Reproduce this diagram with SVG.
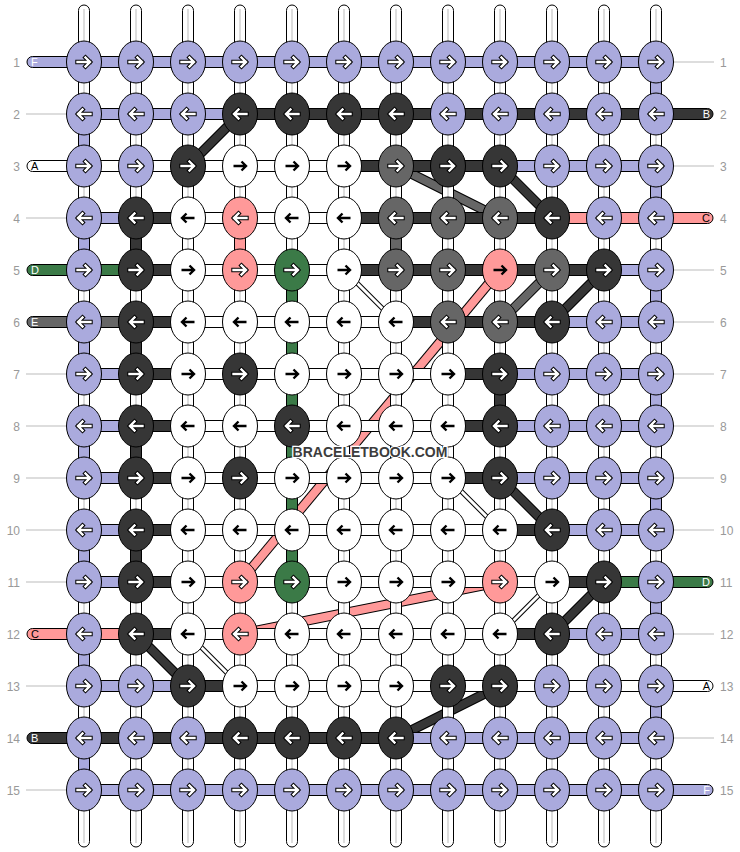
<svg xmlns="http://www.w3.org/2000/svg" xmlns:xlink="http://www.w3.org/1999/xlink" width="740" height="852" viewBox="0 0 740 852">
<style>
.P{fill:#aaaadd}.K{fill:#363636}.W{fill:#fff}.G{fill:#666}.R{fill:#ff9999}.N{fill:#3b7a47}
ellipse{stroke:#000;stroke-width:1}
.s rect{stroke:#000;stroke-width:1}
.ln{stroke:#bbb;stroke-width:1}
.num{font-family:"Liberation Sans",Arial,sans-serif;font-size:12px;fill:#999}
.tl{font-family:"Liberation Sans",Arial,sans-serif;font-size:11px}
.ao{stroke:#000;stroke-width:4.4;stroke-linecap:square;stroke-linejoin:miter}
.ai{stroke:#fff;stroke-width:2.4;stroke-linecap:square;stroke-linejoin:miter}
.ab{stroke:#000;stroke-width:2.4;stroke-linejoin:miter}
.dk{stroke:#000;stroke-width:10}
.dt{stroke:#000;stroke-width:5}
.dw{stroke:#fff;stroke-width:3}
</style>
<defs>
<path id="ra" fill="none" d="M-6.5,0H5.5M1.5,-4.5L6,0L1.5,4.5"/>
<path id="la" fill="none" d="M6.5,0H-5.5M-1.5,-4.5L-6,0L-1.5,4.5"/>
<g id="rw"><use href="#ra" class="ao"/><use href="#ra" class="ai"/></g>
<g id="lw"><use href="#la" class="ao"/><use href="#la" class="ai"/></g>
<use id="rb" href="#ra" class="ab"/>
<use id="lb" href="#la" class="ab"/>
</defs>
<rect width="740" height="852" fill="#fff"/>
<g id="connectors">
<g id="diagonals">
<line class="dk" x1="188" y1="166" x2="240" y2="114"/><line stroke="#363636" stroke-width="8" x1="188" y1="166" x2="240" y2="114"/>
<line class="dk" x1="396" y1="166" x2="500" y2="218"/><line stroke="#666" stroke-width="8" x1="396" y1="166" x2="500" y2="218"/>
<line class="dk" x1="500" y1="166" x2="552" y2="218"/><line stroke="#363636" stroke-width="8" x1="500" y1="166" x2="552" y2="218"/>
<line class="dk" x1="500" y1="270" x2="240" y2="582"/><line stroke="#ff9999" stroke-width="8" x1="500" y1="270" x2="240" y2="582"/>
<line class="dk" x1="552" y1="270" x2="500" y2="322"/><line stroke="#666" stroke-width="8" x1="552" y1="270" x2="500" y2="322"/>
<line class="dk" x1="604" y1="270" x2="552" y2="322"/><line stroke="#363636" stroke-width="8" x1="604" y1="270" x2="552" y2="322"/>
<line class="dk" x1="500" y1="478" x2="552" y2="530"/><line stroke="#363636" stroke-width="8" x1="500" y1="478" x2="552" y2="530"/>
<line class="dk" x1="500" y1="582" x2="240" y2="634"/><line stroke="#ff9999" stroke-width="8" x1="500" y1="582" x2="240" y2="634"/>
<line class="dk" x1="604" y1="582" x2="552" y2="634"/><line stroke="#363636" stroke-width="8" x1="604" y1="582" x2="552" y2="634"/>
<line class="dk" x1="136" y1="634" x2="188" y2="686"/><line stroke="#363636" stroke-width="8" x1="136" y1="634" x2="188" y2="686"/>
<line class="dk" x1="500" y1="686" x2="396" y2="738"/><line stroke="#363636" stroke-width="8" x1="500" y1="686" x2="396" y2="738"/>
<line class="dt" x1="344" y1="270" x2="396" y2="322"/><line class="dw" x1="344" y1="270" x2="396" y2="322"/>
<line class="dt" x1="448" y1="478" x2="500" y2="530"/><line class="dw" x1="448" y1="478" x2="500" y2="530"/>
<line class="dt" x1="552" y1="582" x2="500" y2="634"/><line class="dw" x1="552" y1="582" x2="500" y2="634"/>
<line class="dt" x1="188" y1="634" x2="240" y2="686"/><line class="dw" x1="188" y1="634" x2="240" y2="686"/>
</g>
<g id="warps" class="s">
<rect class="W" x="78.5" y="5" width="11" height="842" rx="5.5"/>
<rect class="W" x="130.5" y="5" width="11" height="842" rx="5.5"/>
<rect class="W" x="182.5" y="5" width="11" height="842" rx="5.5"/>
<rect class="W" x="234.5" y="5" width="11" height="842" rx="5.5"/>
<rect class="W" x="286.5" y="5" width="11" height="842" rx="5.5"/>
<rect class="W" x="338.5" y="5" width="11" height="842" rx="5.5"/>
<rect class="W" x="390.5" y="5" width="11" height="842" rx="5.5"/>
<rect class="W" x="442.5" y="5" width="11" height="842" rx="5.5"/>
<rect class="W" x="494.5" y="5" width="11" height="842" rx="5.5"/>
<rect class="W" x="546.5" y="5" width="11" height="842" rx="5.5"/>
<rect class="W" x="598.5" y="5" width="11" height="842" rx="5.5"/>
<rect class="W" x="650.5" y="5" width="11" height="842" rx="5.5"/>
</g>
<g id="warp-centres">
<path class="ln" stroke="#c8c8c8" d="M84,9V843M136,9V843M188,9V843M240,9V843M292,9V843M344,9V843M396,9V843M448,9V843M500,9V843M552,9V843M604,9V843M656,9V843"/>
</g>
<g id="verticals" class="s">
<rect class="P" x="78.5" y="132" width="11" height="16"/>
<rect class="P" x="78.5" y="236" width="11" height="16"/>
<rect class="P" x="78.5" y="340" width="11" height="16"/>
<rect class="P" x="78.5" y="444" width="11" height="16"/>
<rect class="P" x="78.5" y="548" width="11" height="16"/>
<rect class="P" x="78.5" y="652" width="11" height="16"/>
<rect class="P" x="78.5" y="756" width="11" height="16"/>
<rect class="K" x="130.5" y="236" width="11" height="16"/>
<rect class="K" x="130.5" y="340" width="11" height="16"/>
<rect class="K" x="130.5" y="444" width="11" height="16"/>
<rect class="K" x="130.5" y="548" width="11" height="16"/>
<rect class="R" x="234.5" y="236" width="11" height="16"/>
<rect class="N" x="286.5" y="288" width="11" height="276"/>
<rect class="G" x="390.5" y="236" width="11" height="16"/>
<rect class="K" x="494.5" y="392" width="11" height="16"/>
<rect class="P" x="650.5" y="80" width="11" height="16"/>
<rect class="P" x="650.5" y="184" width="11" height="16"/>
<rect class="P" x="650.5" y="288" width="11" height="16"/>
<rect class="P" x="650.5" y="392" width="11" height="16"/>
<rect class="P" x="650.5" y="496" width="11" height="16"/>
<rect class="P" x="650.5" y="600" width="11" height="16"/>
<rect class="P" x="650.5" y="704" width="11" height="16"/>
</g>
<g id="bands" class="s">
<rect class="P" x="84" y="56.5" width="572" height="11"/>
<rect class="P" x="84" y="108.5" width="156" height="11"/><rect class="K" x="240" y="108.5" width="416" height="11"/>
<rect class="W" x="84" y="160.5" width="260" height="11"/><rect class="K" x="344" y="160.5" width="156" height="11"/><rect class="P" x="500" y="160.5" width="156" height="11"/>
<rect class="P" x="84" y="212.5" width="52" height="11"/><rect class="K" x="136" y="212.5" width="52" height="11"/><rect class="W" x="188" y="212.5" width="156" height="11"/><rect class="K" x="344" y="212.5" width="208" height="11"/><rect class="R" x="552" y="212.5" width="104" height="11"/>
<rect class="N" x="84" y="264.5" width="52" height="11"/><rect class="K" x="136" y="264.5" width="52" height="11"/><rect class="W" x="188" y="264.5" width="156" height="11"/><rect class="K" x="344" y="264.5" width="260" height="11"/><rect class="P" x="604" y="264.5" width="52" height="11"/>
<rect class="G" x="84" y="316.5" width="52" height="11"/><rect class="K" x="136" y="316.5" width="52" height="11"/><rect class="W" x="188" y="316.5" width="208" height="11"/><rect class="K" x="396" y="316.5" width="156" height="11"/><rect class="P" x="552" y="316.5" width="104" height="11"/>
<rect class="P" x="84" y="368.5" width="52" height="11"/><rect class="K" x="136" y="368.5" width="52" height="11"/><rect class="W" x="188" y="368.5" width="260" height="11"/><rect class="K" x="448" y="368.5" width="52" height="11"/><rect class="P" x="500" y="368.5" width="156" height="11"/>
<rect class="P" x="84" y="420.5" width="52" height="11"/><rect class="K" x="136" y="420.5" width="52" height="11"/><rect class="W" x="188" y="420.5" width="260" height="11"/><rect class="K" x="448" y="420.5" width="52" height="11"/><rect class="P" x="500" y="420.5" width="156" height="11"/>
<rect class="P" x="84" y="472.5" width="52" height="11"/><rect class="K" x="136" y="472.5" width="52" height="11"/><rect class="W" x="188" y="472.5" width="260" height="11"/><rect class="K" x="448" y="472.5" width="52" height="11"/><rect class="P" x="500" y="472.5" width="156" height="11"/>
<rect class="P" x="84" y="524.5" width="52" height="11"/><rect class="K" x="136" y="524.5" width="52" height="11"/><rect class="W" x="188" y="524.5" width="312" height="11"/><rect class="K" x="500" y="524.5" width="52" height="11"/><rect class="P" x="552" y="524.5" width="104" height="11"/>
<rect class="P" x="84" y="576.5" width="52" height="11"/><rect class="K" x="136" y="576.5" width="52" height="11"/><rect class="W" x="188" y="576.5" width="364" height="11"/><rect class="K" x="552" y="576.5" width="52" height="11"/><rect class="N" x="604" y="576.5" width="52" height="11"/>
<rect class="R" x="84" y="628.5" width="52" height="11"/><rect class="K" x="136" y="628.5" width="52" height="11"/><rect class="W" x="188" y="628.5" width="312" height="11"/><rect class="K" x="500" y="628.5" width="52" height="11"/><rect class="P" x="552" y="628.5" width="104" height="11"/>
<rect class="P" x="84" y="680.5" width="104" height="11"/><rect class="K" x="188" y="680.5" width="52" height="11"/><rect class="W" x="240" y="680.5" width="416" height="11"/>
<rect class="K" x="84" y="732.5" width="312" height="11"/><rect class="P" x="396" y="732.5" width="260" height="11"/>
<rect class="P" x="84" y="784.5" width="572" height="11"/>
</g>
<g id="tails" class="s">
<rect class="P" x="27" y="56.5" width="57" height="11" rx="5.5"/>
<rect class="W" x="27" y="160.5" width="57" height="11" rx="5.5"/>
<rect class="N" x="27" y="264.5" width="57" height="11" rx="5.5"/>
<rect class="G" x="27" y="316.5" width="57" height="11" rx="5.5"/>
<rect class="R" x="27" y="628.5" width="57" height="11" rx="5.5"/>
<rect class="K" x="27" y="732.5" width="57" height="11" rx="5.5"/>
<rect class="K" x="656" y="108.5" width="57" height="11" rx="5.5"/>
<rect class="R" x="656" y="212.5" width="57" height="11" rx="5.5"/>
<rect class="N" x="656" y="576.5" width="57" height="11" rx="5.5"/>
<rect class="W" x="656" y="680.5" width="57" height="11" rx="5.5"/>
<rect class="P" x="656" y="784.5" width="57" height="11" rx="5.5"/>
</g>
<path id="row-lines" class="ln" d="M26,114H67M26,218H67M26,374H67M26,426H67M26,478H67M26,530H67M26,582H67M26,686H67M26,790H67M674,62H714M674,166H714M674,270H714M674,322H714M674,374H714M674,426H714M674,478H714M674,530H714M674,634H714M674,738H714"/>
</g>
<g id="knots">
<g id="k1-1" transform="translate(84,62)"><ellipse class="P" rx="17.5" ry="21"/><use href="#rw"/></g>
<g id="k1-2" transform="translate(136,62)"><ellipse class="P" rx="17.5" ry="21"/><use href="#rw"/></g>
<g id="k1-3" transform="translate(188,62)"><ellipse class="P" rx="17.5" ry="21"/><use href="#rw"/></g>
<g id="k1-4" transform="translate(240,62)"><ellipse class="P" rx="17.5" ry="21"/><use href="#rw"/></g>
<g id="k1-5" transform="translate(292,62)"><ellipse class="P" rx="17.5" ry="21"/><use href="#rw"/></g>
<g id="k1-6" transform="translate(344,62)"><ellipse class="P" rx="17.5" ry="21"/><use href="#rw"/></g>
<g id="k1-7" transform="translate(396,62)"><ellipse class="P" rx="17.5" ry="21"/><use href="#rw"/></g>
<g id="k1-8" transform="translate(448,62)"><ellipse class="P" rx="17.5" ry="21"/><use href="#rw"/></g>
<g id="k1-9" transform="translate(500,62)"><ellipse class="P" rx="17.5" ry="21"/><use href="#rw"/></g>
<g id="k1-10" transform="translate(552,62)"><ellipse class="P" rx="17.5" ry="21"/><use href="#rw"/></g>
<g id="k1-11" transform="translate(604,62)"><ellipse class="P" rx="17.5" ry="21"/><use href="#rw"/></g>
<g id="k1-12" transform="translate(656,62)"><ellipse class="P" rx="17.5" ry="21"/><use href="#rw"/></g>

<g id="k2-1" transform="translate(84,114)"><ellipse class="P" rx="17.5" ry="21"/><use href="#lw"/></g>
<g id="k2-2" transform="translate(136,114)"><ellipse class="P" rx="17.5" ry="21"/><use href="#lw"/></g>
<g id="k2-3" transform="translate(188,114)"><ellipse class="P" rx="17.5" ry="21"/><use href="#lw"/></g>
<g id="k2-4" transform="translate(240,114)"><ellipse class="K" rx="17.5" ry="21"/><use href="#lw"/></g>
<g id="k2-5" transform="translate(292,114)"><ellipse class="K" rx="17.5" ry="21"/><use href="#lw"/></g>
<g id="k2-6" transform="translate(344,114)"><ellipse class="K" rx="17.5" ry="21"/><use href="#lw"/></g>
<g id="k2-7" transform="translate(396,114)"><ellipse class="K" rx="17.5" ry="21"/><use href="#lw"/></g>
<g id="k2-8" transform="translate(448,114)"><ellipse class="P" rx="17.5" ry="21"/><use href="#lw"/></g>
<g id="k2-9" transform="translate(500,114)"><ellipse class="P" rx="17.5" ry="21"/><use href="#lw"/></g>
<g id="k2-10" transform="translate(552,114)"><ellipse class="P" rx="17.5" ry="21"/><use href="#lw"/></g>
<g id="k2-11" transform="translate(604,114)"><ellipse class="P" rx="17.5" ry="21"/><use href="#lw"/></g>
<g id="k2-12" transform="translate(656,114)"><ellipse class="P" rx="17.5" ry="21"/><use href="#lw"/></g>

<g id="k3-1" transform="translate(84,166)"><ellipse class="P" rx="17.5" ry="21"/><use href="#rw"/></g>
<g id="k3-2" transform="translate(136,166)"><ellipse class="P" rx="17.5" ry="21"/><use href="#rw"/></g>
<g id="k3-3" transform="translate(188,166)"><ellipse class="K" rx="17.5" ry="21"/><use href="#rw"/></g>
<g id="k3-4" transform="translate(240,166)"><ellipse class="W" rx="17.5" ry="21"/><use href="#rb"/></g>
<g id="k3-5" transform="translate(292,166)"><ellipse class="W" rx="17.5" ry="21"/><use href="#rb"/></g>
<g id="k3-6" transform="translate(344,166)"><ellipse class="W" rx="17.5" ry="21"/><use href="#rb"/></g>
<g id="k3-7" transform="translate(396,166)"><ellipse class="G" rx="17.5" ry="21"/><use href="#rw"/></g>
<g id="k3-8" transform="translate(448,166)"><ellipse class="K" rx="17.5" ry="21"/><use href="#rw"/></g>
<g id="k3-9" transform="translate(500,166)"><ellipse class="K" rx="17.5" ry="21"/><use href="#rw"/></g>
<g id="k3-10" transform="translate(552,166)"><ellipse class="P" rx="17.5" ry="21"/><use href="#rw"/></g>
<g id="k3-11" transform="translate(604,166)"><ellipse class="P" rx="17.5" ry="21"/><use href="#rw"/></g>
<g id="k3-12" transform="translate(656,166)"><ellipse class="P" rx="17.5" ry="21"/><use href="#rw"/></g>

<g id="k4-1" transform="translate(84,218)"><ellipse class="P" rx="17.5" ry="21"/><use href="#lw"/></g>
<g id="k4-2" transform="translate(136,218)"><ellipse class="K" rx="17.5" ry="21"/><use href="#lw"/></g>
<g id="k4-3" transform="translate(188,218)"><ellipse class="W" rx="17.5" ry="21"/><use href="#lb"/></g>
<g id="k4-4" transform="translate(240,218)"><ellipse class="R" rx="17.5" ry="21"/><use href="#lw"/></g>
<g id="k4-5" transform="translate(292,218)"><ellipse class="W" rx="17.5" ry="21"/><use href="#lb"/></g>
<g id="k4-6" transform="translate(344,218)"><ellipse class="W" rx="17.5" ry="21"/><use href="#lb"/></g>
<g id="k4-7" transform="translate(396,218)"><ellipse class="G" rx="17.5" ry="21"/><use href="#lw"/></g>
<g id="k4-8" transform="translate(448,218)"><ellipse class="G" rx="17.5" ry="21"/><use href="#lw"/></g>
<g id="k4-9" transform="translate(500,218)"><ellipse class="G" rx="17.5" ry="21"/><use href="#lw"/></g>
<g id="k4-10" transform="translate(552,218)"><ellipse class="K" rx="17.5" ry="21"/><use href="#lw"/></g>
<g id="k4-11" transform="translate(604,218)"><ellipse class="P" rx="17.5" ry="21"/><use href="#lw"/></g>
<g id="k4-12" transform="translate(656,218)"><ellipse class="P" rx="17.5" ry="21"/><use href="#lw"/></g>

<g id="k5-1" transform="translate(84,270)"><ellipse class="P" rx="17.5" ry="21"/><use href="#rw"/></g>
<g id="k5-2" transform="translate(136,270)"><ellipse class="K" rx="17.5" ry="21"/><use href="#rw"/></g>
<g id="k5-3" transform="translate(188,270)"><ellipse class="W" rx="17.5" ry="21"/><use href="#rb"/></g>
<g id="k5-4" transform="translate(240,270)"><ellipse class="R" rx="17.5" ry="21"/><use href="#rw"/></g>
<g id="k5-5" transform="translate(292,270)"><ellipse class="N" rx="17.5" ry="21"/><use href="#rw"/></g>
<g id="k5-6" transform="translate(344,270)"><ellipse class="W" rx="17.5" ry="21"/><use href="#rb"/></g>
<g id="k5-7" transform="translate(396,270)"><ellipse class="G" rx="17.5" ry="21"/><use href="#rw"/></g>
<g id="k5-8" transform="translate(448,270)"><ellipse class="G" rx="17.5" ry="21"/><use href="#rw"/></g>
<g id="k5-9" transform="translate(500,270)"><ellipse class="R" rx="17.5" ry="21"/><use href="#rb"/></g>
<g id="k5-10" transform="translate(552,270)"><ellipse class="G" rx="17.5" ry="21"/><use href="#rw"/></g>
<g id="k5-11" transform="translate(604,270)"><ellipse class="K" rx="17.5" ry="21"/><use href="#rw"/></g>
<g id="k5-12" transform="translate(656,270)"><ellipse class="P" rx="17.5" ry="21"/><use href="#rw"/></g>

<g id="k6-1" transform="translate(84,322)"><ellipse class="P" rx="17.5" ry="21"/><use href="#lw"/></g>
<g id="k6-2" transform="translate(136,322)"><ellipse class="K" rx="17.5" ry="21"/><use href="#lw"/></g>
<g id="k6-3" transform="translate(188,322)"><ellipse class="W" rx="17.5" ry="21"/><use href="#lb"/></g>
<g id="k6-4" transform="translate(240,322)"><ellipse class="W" rx="17.5" ry="21"/><use href="#lb"/></g>
<g id="k6-5" transform="translate(292,322)"><ellipse class="W" rx="17.5" ry="21"/><use href="#lb"/></g>
<g id="k6-6" transform="translate(344,322)"><ellipse class="W" rx="17.5" ry="21"/><use href="#lb"/></g>
<g id="k6-7" transform="translate(396,322)"><ellipse class="W" rx="17.5" ry="21"/><use href="#lb"/></g>
<g id="k6-8" transform="translate(448,322)"><ellipse class="G" rx="17.5" ry="21"/><use href="#lw"/></g>
<g id="k6-9" transform="translate(500,322)"><ellipse class="G" rx="17.5" ry="21"/><use href="#lw"/></g>
<g id="k6-10" transform="translate(552,322)"><ellipse class="K" rx="17.5" ry="21"/><use href="#lw"/></g>
<g id="k6-11" transform="translate(604,322)"><ellipse class="P" rx="17.5" ry="21"/><use href="#lw"/></g>
<g id="k6-12" transform="translate(656,322)"><ellipse class="P" rx="17.5" ry="21"/><use href="#lw"/></g>

<g id="k7-1" transform="translate(84,374)"><ellipse class="P" rx="17.5" ry="21"/><use href="#rw"/></g>
<g id="k7-2" transform="translate(136,374)"><ellipse class="K" rx="17.5" ry="21"/><use href="#rw"/></g>
<g id="k7-3" transform="translate(188,374)"><ellipse class="W" rx="17.5" ry="21"/><use href="#rb"/></g>
<g id="k7-4" transform="translate(240,374)"><ellipse class="K" rx="17.5" ry="21"/><use href="#rw"/></g>
<g id="k7-5" transform="translate(292,374)"><ellipse class="W" rx="17.5" ry="21"/><use href="#rb"/></g>
<g id="k7-6" transform="translate(344,374)"><ellipse class="W" rx="17.5" ry="21"/><use href="#rb"/></g>
<g id="k7-7" transform="translate(396,374)"><ellipse class="W" rx="17.5" ry="21"/><use href="#rb"/></g>
<g id="k7-8" transform="translate(448,374)"><ellipse class="W" rx="17.5" ry="21"/><use href="#rb"/></g>
<g id="k7-9" transform="translate(500,374)"><ellipse class="K" rx="17.5" ry="21"/><use href="#rw"/></g>
<g id="k7-10" transform="translate(552,374)"><ellipse class="P" rx="17.5" ry="21"/><use href="#rw"/></g>
<g id="k7-11" transform="translate(604,374)"><ellipse class="P" rx="17.5" ry="21"/><use href="#rw"/></g>
<g id="k7-12" transform="translate(656,374)"><ellipse class="P" rx="17.5" ry="21"/><use href="#rw"/></g>

<g id="k8-1" transform="translate(84,426)"><ellipse class="P" rx="17.5" ry="21"/><use href="#lw"/></g>
<g id="k8-2" transform="translate(136,426)"><ellipse class="K" rx="17.5" ry="21"/><use href="#lw"/></g>
<g id="k8-3" transform="translate(188,426)"><ellipse class="W" rx="17.5" ry="21"/><use href="#lb"/></g>
<g id="k8-4" transform="translate(240,426)"><ellipse class="W" rx="17.5" ry="21"/><use href="#lb"/></g>
<g id="k8-5" transform="translate(292,426)"><ellipse class="K" rx="17.5" ry="21"/><use href="#lw"/></g>
<g id="k8-6" transform="translate(344,426)"><ellipse class="W" rx="17.5" ry="21"/><use href="#lb"/></g>
<g id="k8-7" transform="translate(396,426)"><ellipse class="W" rx="17.5" ry="21"/><use href="#lb"/></g>
<g id="k8-8" transform="translate(448,426)"><ellipse class="W" rx="17.5" ry="21"/><use href="#lb"/></g>
<g id="k8-9" transform="translate(500,426)"><ellipse class="K" rx="17.5" ry="21"/><use href="#lw"/></g>
<g id="k8-10" transform="translate(552,426)"><ellipse class="P" rx="17.5" ry="21"/><use href="#lw"/></g>
<g id="k8-11" transform="translate(604,426)"><ellipse class="P" rx="17.5" ry="21"/><use href="#lw"/></g>
<g id="k8-12" transform="translate(656,426)"><ellipse class="P" rx="17.5" ry="21"/><use href="#lw"/></g>

<g id="k9-1" transform="translate(84,478)"><ellipse class="P" rx="17.5" ry="21"/><use href="#rw"/></g>
<g id="k9-2" transform="translate(136,478)"><ellipse class="K" rx="17.5" ry="21"/><use href="#rw"/></g>
<g id="k9-3" transform="translate(188,478)"><ellipse class="W" rx="17.5" ry="21"/><use href="#rb"/></g>
<g id="k9-4" transform="translate(240,478)"><ellipse class="K" rx="17.5" ry="21"/><use href="#rw"/></g>
<g id="k9-5" transform="translate(292,478)"><ellipse class="W" rx="17.5" ry="21"/><use href="#rb"/></g>
<g id="k9-6" transform="translate(344,478)"><ellipse class="W" rx="17.5" ry="21"/><use href="#rb"/></g>
<g id="k9-7" transform="translate(396,478)"><ellipse class="W" rx="17.5" ry="21"/><use href="#rb"/></g>
<g id="k9-8" transform="translate(448,478)"><ellipse class="W" rx="17.5" ry="21"/><use href="#rb"/></g>
<g id="k9-9" transform="translate(500,478)"><ellipse class="K" rx="17.5" ry="21"/><use href="#rw"/></g>
<g id="k9-10" transform="translate(552,478)"><ellipse class="P" rx="17.5" ry="21"/><use href="#rw"/></g>
<g id="k9-11" transform="translate(604,478)"><ellipse class="P" rx="17.5" ry="21"/><use href="#rw"/></g>
<g id="k9-12" transform="translate(656,478)"><ellipse class="P" rx="17.5" ry="21"/><use href="#rw"/></g>

<g id="k10-1" transform="translate(84,530)"><ellipse class="P" rx="17.5" ry="21"/><use href="#lw"/></g>
<g id="k10-2" transform="translate(136,530)"><ellipse class="K" rx="17.5" ry="21"/><use href="#lw"/></g>
<g id="k10-3" transform="translate(188,530)"><ellipse class="W" rx="17.5" ry="21"/><use href="#lb"/></g>
<g id="k10-4" transform="translate(240,530)"><ellipse class="W" rx="17.5" ry="21"/><use href="#lb"/></g>
<g id="k10-5" transform="translate(292,530)"><ellipse class="W" rx="17.5" ry="21"/><use href="#lb"/></g>
<g id="k10-6" transform="translate(344,530)"><ellipse class="W" rx="17.5" ry="21"/><use href="#lb"/></g>
<g id="k10-7" transform="translate(396,530)"><ellipse class="W" rx="17.5" ry="21"/><use href="#lb"/></g>
<g id="k10-8" transform="translate(448,530)"><ellipse class="W" rx="17.5" ry="21"/><use href="#lb"/></g>
<g id="k10-9" transform="translate(500,530)"><ellipse class="W" rx="17.5" ry="21"/><use href="#lb"/></g>
<g id="k10-10" transform="translate(552,530)"><ellipse class="K" rx="17.5" ry="21"/><use href="#lw"/></g>
<g id="k10-11" transform="translate(604,530)"><ellipse class="P" rx="17.5" ry="21"/><use href="#lw"/></g>
<g id="k10-12" transform="translate(656,530)"><ellipse class="P" rx="17.5" ry="21"/><use href="#lw"/></g>

<g id="k11-1" transform="translate(84,582)"><ellipse class="P" rx="17.5" ry="21"/><use href="#rw"/></g>
<g id="k11-2" transform="translate(136,582)"><ellipse class="K" rx="17.5" ry="21"/><use href="#rw"/></g>
<g id="k11-3" transform="translate(188,582)"><ellipse class="W" rx="17.5" ry="21"/><use href="#rb"/></g>
<g id="k11-4" transform="translate(240,582)"><ellipse class="R" rx="17.5" ry="21"/><use href="#rw"/></g>
<g id="k11-5" transform="translate(292,582)"><ellipse class="N" rx="17.5" ry="21"/><use href="#rw"/></g>
<g id="k11-6" transform="translate(344,582)"><ellipse class="W" rx="17.5" ry="21"/><use href="#rb"/></g>
<g id="k11-7" transform="translate(396,582)"><ellipse class="W" rx="17.5" ry="21"/><use href="#rb"/></g>
<g id="k11-8" transform="translate(448,582)"><ellipse class="W" rx="17.5" ry="21"/><use href="#rb"/></g>
<g id="k11-9" transform="translate(500,582)"><ellipse class="R" rx="17.5" ry="21"/><use href="#rw"/></g>
<g id="k11-10" transform="translate(552,582)"><ellipse class="W" rx="17.5" ry="21"/><use href="#rb"/></g>
<g id="k11-11" transform="translate(604,582)"><ellipse class="K" rx="17.5" ry="21"/><use href="#rw"/></g>
<g id="k11-12" transform="translate(656,582)"><ellipse class="P" rx="17.5" ry="21"/><use href="#rw"/></g>

<g id="k12-1" transform="translate(84,634)"><ellipse class="P" rx="17.5" ry="21"/><use href="#lw"/></g>
<g id="k12-2" transform="translate(136,634)"><ellipse class="K" rx="17.5" ry="21"/><use href="#lw"/></g>
<g id="k12-3" transform="translate(188,634)"><ellipse class="W" rx="17.5" ry="21"/><use href="#lb"/></g>
<g id="k12-4" transform="translate(240,634)"><ellipse class="R" rx="17.5" ry="21"/><use href="#lw"/></g>
<g id="k12-5" transform="translate(292,634)"><ellipse class="W" rx="17.5" ry="21"/><use href="#lb"/></g>
<g id="k12-6" transform="translate(344,634)"><ellipse class="W" rx="17.5" ry="21"/><use href="#lb"/></g>
<g id="k12-7" transform="translate(396,634)"><ellipse class="W" rx="17.5" ry="21"/><use href="#lb"/></g>
<g id="k12-8" transform="translate(448,634)"><ellipse class="W" rx="17.5" ry="21"/><use href="#lb"/></g>
<g id="k12-9" transform="translate(500,634)"><ellipse class="W" rx="17.5" ry="21"/><use href="#lb"/></g>
<g id="k12-10" transform="translate(552,634)"><ellipse class="K" rx="17.5" ry="21"/><use href="#lw"/></g>
<g id="k12-11" transform="translate(604,634)"><ellipse class="P" rx="17.5" ry="21"/><use href="#lw"/></g>
<g id="k12-12" transform="translate(656,634)"><ellipse class="P" rx="17.5" ry="21"/><use href="#lw"/></g>

<g id="k13-1" transform="translate(84,686)"><ellipse class="P" rx="17.5" ry="21"/><use href="#rw"/></g>
<g id="k13-2" transform="translate(136,686)"><ellipse class="P" rx="17.5" ry="21"/><use href="#rw"/></g>
<g id="k13-3" transform="translate(188,686)"><ellipse class="K" rx="17.5" ry="21"/><use href="#rw"/></g>
<g id="k13-4" transform="translate(240,686)"><ellipse class="W" rx="17.5" ry="21"/><use href="#rb"/></g>
<g id="k13-5" transform="translate(292,686)"><ellipse class="W" rx="17.5" ry="21"/><use href="#rb"/></g>
<g id="k13-6" transform="translate(344,686)"><ellipse class="W" rx="17.5" ry="21"/><use href="#rb"/></g>
<g id="k13-7" transform="translate(396,686)"><ellipse class="W" rx="17.5" ry="21"/><use href="#rb"/></g>
<g id="k13-8" transform="translate(448,686)"><ellipse class="K" rx="17.5" ry="21"/><use href="#rw"/></g>
<g id="k13-9" transform="translate(500,686)"><ellipse class="K" rx="17.5" ry="21"/><use href="#rw"/></g>
<g id="k13-10" transform="translate(552,686)"><ellipse class="P" rx="17.5" ry="21"/><use href="#rw"/></g>
<g id="k13-11" transform="translate(604,686)"><ellipse class="P" rx="17.5" ry="21"/><use href="#rw"/></g>
<g id="k13-12" transform="translate(656,686)"><ellipse class="P" rx="17.5" ry="21"/><use href="#rw"/></g>

<g id="k14-1" transform="translate(84,738)"><ellipse class="P" rx="17.5" ry="21"/><use href="#lw"/></g>
<g id="k14-2" transform="translate(136,738)"><ellipse class="P" rx="17.5" ry="21"/><use href="#lw"/></g>
<g id="k14-3" transform="translate(188,738)"><ellipse class="P" rx="17.5" ry="21"/><use href="#lw"/></g>
<g id="k14-4" transform="translate(240,738)"><ellipse class="K" rx="17.5" ry="21"/><use href="#lw"/></g>
<g id="k14-5" transform="translate(292,738)"><ellipse class="K" rx="17.5" ry="21"/><use href="#lw"/></g>
<g id="k14-6" transform="translate(344,738)"><ellipse class="K" rx="17.5" ry="21"/><use href="#lw"/></g>
<g id="k14-7" transform="translate(396,738)"><ellipse class="K" rx="17.5" ry="21"/><use href="#lw"/></g>
<g id="k14-8" transform="translate(448,738)"><ellipse class="P" rx="17.5" ry="21"/><use href="#lw"/></g>
<g id="k14-9" transform="translate(500,738)"><ellipse class="P" rx="17.5" ry="21"/><use href="#lw"/></g>
<g id="k14-10" transform="translate(552,738)"><ellipse class="P" rx="17.5" ry="21"/><use href="#lw"/></g>
<g id="k14-11" transform="translate(604,738)"><ellipse class="P" rx="17.5" ry="21"/><use href="#lw"/></g>
<g id="k14-12" transform="translate(656,738)"><ellipse class="P" rx="17.5" ry="21"/><use href="#lw"/></g>

<g id="k15-1" transform="translate(84,790)"><ellipse class="P" rx="17.5" ry="21"/><use href="#rw"/></g>
<g id="k15-2" transform="translate(136,790)"><ellipse class="P" rx="17.5" ry="21"/><use href="#rw"/></g>
<g id="k15-3" transform="translate(188,790)"><ellipse class="P" rx="17.5" ry="21"/><use href="#rw"/></g>
<g id="k15-4" transform="translate(240,790)"><ellipse class="P" rx="17.5" ry="21"/><use href="#rw"/></g>
<g id="k15-5" transform="translate(292,790)"><ellipse class="P" rx="17.5" ry="21"/><use href="#rw"/></g>
<g id="k15-6" transform="translate(344,790)"><ellipse class="P" rx="17.5" ry="21"/><use href="#rw"/></g>
<g id="k15-7" transform="translate(396,790)"><ellipse class="P" rx="17.5" ry="21"/><use href="#rw"/></g>
<g id="k15-8" transform="translate(448,790)"><ellipse class="P" rx="17.5" ry="21"/><use href="#rw"/></g>
<g id="k15-9" transform="translate(500,790)"><ellipse class="P" rx="17.5" ry="21"/><use href="#rw"/></g>
<g id="k15-10" transform="translate(552,790)"><ellipse class="P" rx="17.5" ry="21"/><use href="#rw"/></g>
<g id="k15-11" transform="translate(604,790)"><ellipse class="P" rx="17.5" ry="21"/><use href="#rw"/></g>
<g id="k15-12" transform="translate(656,790)"><ellipse class="P" rx="17.5" ry="21"/><use href="#rw"/></g>
</g>
<g id="tail-letters" class="tl">
<text x="31" y="66" fill="#fff">F</text>
<text x="31" y="170" fill="#000">A</text>
<text x="31" y="274" fill="#fff">D</text>
<text x="31" y="326" fill="#fff">E</text>
<text x="31" y="638" fill="#000">C</text>
<text x="31" y="742" fill="#fff">B</text>
<text x="710" y="118" fill="#fff" text-anchor="end">B</text>
<text x="710" y="222" fill="#000" text-anchor="end">C</text>
<text x="710" y="586" fill="#fff" text-anchor="end">D</text>
<text x="710" y="690" fill="#000" text-anchor="end">A</text>
<text x="710" y="794" fill="#fff" text-anchor="end">F</text>
</g>
<g id="row-numbers" class="num">
<g text-anchor="end">
<text x="20" y="66.5">1</text><text x="20" y="118.5">2</text><text x="20" y="170.5">3</text><text x="20" y="222.5">4</text><text x="20" y="274.5">5</text><text x="20" y="326.5">6</text><text x="20" y="378.5">7</text><text x="20" y="430.5">8</text><text x="20" y="482.5">9</text><text x="20" y="534.5">10</text><text x="20" y="586.5">11</text><text x="20" y="638.5">12</text><text x="20" y="690.5">13</text><text x="20" y="742.5">14</text><text x="20" y="794.5">15</text>
</g>
<text x="720" y="66.5">1</text><text x="720" y="118.5">2</text><text x="720" y="170.5">3</text><text x="720" y="222.5">4</text><text x="720" y="274.5">5</text><text x="720" y="326.5">6</text><text x="720" y="378.5">7</text><text x="720" y="430.5">8</text><text x="720" y="482.5">9</text><text x="720" y="534.5">10</text><text x="720" y="586.5">11</text><text x="720" y="638.5">12</text><text x="720" y="690.5">13</text><text x="720" y="742.5">14</text><text x="720" y="794.5">15</text>
</g>
<text id="watermark" x="370" y="457" text-anchor="middle" font-family="'Liberation Sans',Arial,sans-serif" font-weight="bold" font-size="14" fill="#3c3c3c" stroke="#fff" stroke-width="2.5" paint-order="stroke">BRACELETBOOK.COM</text>
</svg>
